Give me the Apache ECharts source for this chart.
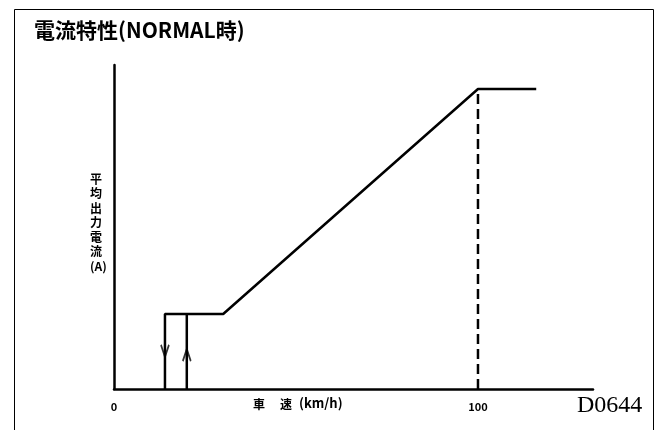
<!DOCTYPE html>
<html>
<head>
<meta charset="utf-8">
<script src="https://cdn.jsdelivr.net/npm/echarts@6/dist/echarts.min.js"></script>
<style>
  html, body { margin: 0; padding: 0; background: #fff; }
  #chart { width: 657px; height: 430px; }
</style>
</head>
<body>
<div id="chart"></div>
<script>
// Average output current vs. vehicle speed (NORMAL mode)
const titleText = '電流特性(NORMAL時)';
const xAxisNameParts = ['車', '速', '(km/h)'];
const yAxisName = '平\n均\n出\n力\n電\n流\n(A)';
const drawingCode = 'D0644';
const xTickValues = [0, 100];

// Current profile: drop-out at 14 km/h, hold from 20 to 30 km/h, ramp to max at 100 km/h
const mainCurve = [[14, 0], [14, 25], [30, 25], [100, 100], [116, 100]];
const pickupLine = [[20, 0], [20, 25]];
const markerLine = [[100, 0], [100, 100]];
const downArrow = [[14, 12.7]];
const upArrow = [[20, 11.3]];

const chart = echarts.init(document.getElementById('chart'));
const font = '"Noto Sans CJK JP", sans-serif';
const nameStyle = 'bold 12px ' + font;

chart.setOption({
  animation: false,
  backgroundColor: '#fff',
  grid: { left: 114, right: 64, top: 65, bottom: 41 },
  xAxis: {
    type: 'value', min: 0, max: 131.6,
    axisLine: { lineStyle: { color: '#000', width: 2.5 } },
    axisTick: { show: false },
    splitLine: { show: false },
    axisLabel: {
      customValues: xTickValues,
      color: '#000', fontFamily: font, fontSize: 11, fontWeight: 'bold', margin: 12
    }
  },
  yAxis: {
    type: 'value', min: 0, max: 108,
    axisLine: { show: true, lineStyle: { color: '#000', width: 2.5 } },
    axisTick: { show: false },
    axisLabel: { show: false },
    splitLine: { show: false }
  },
  series: [
    { type: 'line', data: mainCurve, symbol: 'none', lineStyle: { color: '#000', width: 2.5 } },
    { type: 'line', data: pickupLine, symbol: 'none', lineStyle: { color: '#000', width: 2.5 } },
    { type: 'line', data: markerLine, symbol: 'none', lineStyle: { color: '#000', width: 2.5, type: [10, 5] } },
    { type: 'scatter', data: downArrow, symbol: 'path://M0,0 L5,14 L10,0', symbolSize: [8, 12],
      itemStyle: { color: 'transparent', borderColor: '#000', borderWidth: 2 } },
    { type: 'scatter', data: upArrow, symbol: 'path://M0,14 L5,0 L10,14', symbolSize: [8, 12],
      itemStyle: { color: 'transparent', borderColor: '#000', borderWidth: 2 } }
  ],
  graphic: [
    { type: 'polyline', shape: { points: [[14.5, 430], [14.5, 9.5], [653.5, 9.5], [653.5, 430]] },
      style: { stroke: '#000', lineWidth: 1, fill: null } },
    { type: 'text', left: 34, top: 20,
      style: { text: titleText, font: 'bold 21px ' + font, fill: '#000' } },
    { type: 'text', left: 90, top: 172,
      style: { text: yAxisName, font: 'bold 12px ' + font, fill: '#000', lineHeight: 14.5, align: 'center', width: 16 } },
    { type: 'text', left: 253, top: 398, style: { text: xAxisNameParts[0], font: nameStyle, fill: '#000' } },
    { type: 'text', left: 280, top: 398, style: { text: xAxisNameParts[1], font: nameStyle, fill: '#000' } },
    { type: 'text', left: 299, top: 397, style: { text: xAxisNameParts[2], font: 'bold 13px ' + font, fill: '#000' } },
    { type: 'text', left: 577, top: 394,
      style: { text: drawingCode, font: '24px "Liberation Serif", serif', fill: '#000' } }
  ]
});
</script>
</body>
</html>
